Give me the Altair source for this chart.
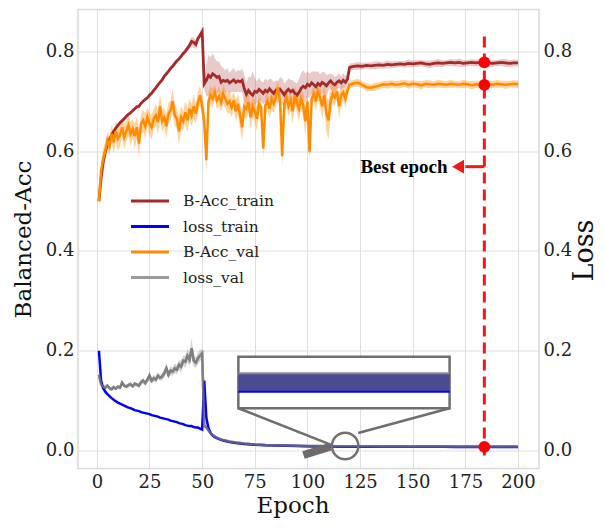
import altair as alt
import pandas as pd

# ---------------- data ----------------
EPOCH_ACC = list(range(1, 121)) + list(range(122, 201, 2))

ACC_TRAIN = [
    0.500, 0.545, 0.578, 0.598, 0.612, 0.623, 0.632, 0.640, 0.646, 0.652,
    0.657, 0.661, 0.665, 0.670, 0.674, 0.677, 0.681, 0.685, 0.689, 0.690,
    0.696, 0.700, 0.704, 0.707, 0.712, 0.716, 0.722, 0.727, 0.733, 0.738,
    0.743, 0.750, 0.755, 0.760, 0.766, 0.770, 0.776, 0.781, 0.785, 0.790,
    0.796, 0.800, 0.806, 0.812, 0.820, 0.818, 0.814, 0.826, 0.832, 0.840,
    0.735, 0.742, 0.752, 0.748, 0.755, 0.752, 0.748, 0.750, 0.738, 0.742,
    0.740, 0.742, 0.737, 0.740, 0.743, 0.738, 0.741, 0.739, 0.742, 0.725,
    0.714, 0.722, 0.716, 0.712, 0.720, 0.718, 0.724, 0.720, 0.716, 0.722,
    0.719, 0.725, 0.720, 0.716, 0.722, 0.718, 0.724, 0.719, 0.713, 0.720,
    0.724, 0.719, 0.722, 0.716, 0.712, 0.718, 0.726, 0.730, 0.727, 0.734,
    0.731, 0.737, 0.733, 0.729, 0.736, 0.732, 0.738, 0.735, 0.731, 0.737,
    0.741, 0.736, 0.733, 0.738, 0.741, 0.737, 0.742, 0.738, 0.744, 0.768,
    0.770, 0.771, 0.770, 0.772, 0.771, 0.772, 0.773, 0.772, 0.774, 0.773,
    0.774, 0.775, 0.774, 0.776, 0.775, 0.776, 0.777, 0.775, 0.774, 0.776,
    0.777, 0.776, 0.777, 0.778, 0.777, 0.778, 0.776, 0.777, 0.778, 0.777,
    0.778, 0.778, 0.777, 0.776, 0.777, 0.778, 0.777, 0.776, 0.777, 0.777,
]
ACC_TRAIN_STD = [
    0.004, 0.006, 0.005, 0.004, 0.004, 0.004, 0.003, 0.004, 0.004, 0.004,
    0.004, 0.003, 0.004, 0.004, 0.003, 0.004, 0.004, 0.003, 0.004, 0.004,
    0.004, 0.004, 0.003, 0.004, 0.004, 0.004, 0.003, 0.004, 0.004, 0.004,
    0.004, 0.005, 0.004, 0.004, 0.005, 0.004, 0.005, 0.005, 0.004, 0.005,
    0.005, 0.006, 0.006, 0.007, 0.009, 0.010, 0.009, 0.008, 0.006, 0.005,
    0.012, 0.032, 0.042, 0.040, 0.042, 0.035, 0.032, 0.030, 0.033, 0.025,
    0.022, 0.024, 0.020, 0.022, 0.024, 0.020, 0.022, 0.021, 0.024, 0.027,
    0.024, 0.027, 0.032, 0.048, 0.027, 0.022, 0.024, 0.020, 0.022, 0.024,
    0.022, 0.020, 0.024, 0.022, 0.020, 0.022, 0.024, 0.027, 0.022, 0.020,
    0.022, 0.024, 0.020, 0.022, 0.024, 0.027, 0.030, 0.032, 0.028, 0.026,
    0.024, 0.022, 0.027, 0.030, 0.024, 0.022, 0.020, 0.024, 0.022, 0.016,
    0.015, 0.017, 0.016, 0.013, 0.015, 0.013, 0.014, 0.013, 0.010, 0.008,
    0.007, 0.008, 0.007, 0.006, 0.007, 0.008, 0.007, 0.007, 0.008, 0.007,
    0.007, 0.006, 0.007, 0.008, 0.007, 0.007, 0.006, 0.007, 0.008, 0.007,
    0.008, 0.007, 0.006, 0.007, 0.007, 0.008, 0.007, 0.006, 0.007, 0.007,
    0.007, 0.008, 0.007, 0.007, 0.006, 0.007, 0.008, 0.007, 0.007, 0.007,
]
ACC_VAL = [
    0.500, 0.560, 0.585, 0.600, 0.622, 0.610, 0.635, 0.618, 0.640, 0.625,
    0.632, 0.648, 0.628, 0.640, 0.652, 0.635, 0.645, 0.630, 0.648, 0.615,
    0.655, 0.662, 0.650, 0.668, 0.655, 0.648, 0.665, 0.672, 0.658, 0.690,
    0.660, 0.668, 0.650, 0.675, 0.682, 0.700, 0.672, 0.665, 0.640, 0.668,
    0.660, 0.678, 0.662, 0.685, 0.672, 0.690, 0.675, 0.698, 0.712, 0.690,
    0.660, 0.582, 0.700, 0.712, 0.705, 0.718, 0.702, 0.710, 0.698, 0.715,
    0.705, 0.695, 0.700, 0.688, 0.702, 0.680, 0.695, 0.672, 0.648, 0.690,
    0.685, 0.698, 0.668, 0.690, 0.680, 0.665, 0.695, 0.688, 0.605, 0.692,
    0.700, 0.685, 0.705, 0.695, 0.708, 0.728, 0.700, 0.590, 0.695, 0.708,
    0.690, 0.702, 0.680, 0.712, 0.698, 0.685, 0.705, 0.692, 0.660, 0.700,
    0.598, 0.705, 0.715, 0.700, 0.720, 0.708, 0.690, 0.712, 0.675, 0.662,
    0.700, 0.715, 0.708, 0.720, 0.690, 0.712, 0.718, 0.705, 0.722, 0.733,
    0.736, 0.737, 0.733, 0.728, 0.727, 0.729, 0.731, 0.734, 0.733, 0.735,
    0.733, 0.734, 0.736, 0.733, 0.735, 0.734, 0.732, 0.735, 0.734, 0.733,
    0.735, 0.734, 0.733, 0.735, 0.734, 0.733, 0.735, 0.734, 0.732, 0.734,
    0.733, 0.733, 0.734, 0.733, 0.735, 0.734, 0.733, 0.734, 0.735, 0.734,
]
ACC_VAL_STD = [
    0.010, 0.018, 0.020, 0.018, 0.015, 0.020, 0.018, 0.022, 0.020, 0.025,
    0.022, 0.020, 0.025, 0.020, 0.022, 0.024, 0.020, 0.025, 0.022, 0.028,
    0.020, 0.022, 0.025, 0.020, 0.022, 0.025, 0.020, 0.022, 0.024, 0.025,
    0.022, 0.020, 0.025, 0.022, 0.020, 0.025, 0.022, 0.020, 0.028, 0.022,
    0.020, 0.022, 0.025, 0.020, 0.022, 0.025, 0.020, 0.022, 0.020, 0.022,
    0.030, 0.025, 0.020, 0.018, 0.020, 0.015, 0.018, 0.020, 0.018, 0.020,
    0.018, 0.020, 0.022, 0.020, 0.018, 0.022, 0.020, 0.025, 0.028, 0.020,
    0.022, 0.020, 0.025, 0.020, 0.022, 0.025, 0.020, 0.018, 0.020, 0.020,
    0.018, 0.020, 0.022, 0.018, 0.020, 0.015, 0.020, 0.020, 0.022, 0.020,
    0.020, 0.022, 0.025, 0.020, 0.022, 0.025, 0.020, 0.022, 0.030, 0.020,
    0.020, 0.018, 0.015, 0.020, 0.018, 0.020, 0.025, 0.022, 0.035, 0.040,
    0.030, 0.020, 0.018, 0.015, 0.025, 0.020, 0.015, 0.018, 0.012, 0.008,
    0.007, 0.008, 0.007, 0.008, 0.007, 0.008, 0.007, 0.007, 0.008, 0.007,
    0.007, 0.008, 0.007, 0.008, 0.007, 0.007, 0.008, 0.007, 0.008, 0.007,
    0.008, 0.007, 0.007, 0.008, 0.007, 0.007, 0.008, 0.007, 0.008, 0.007,
    0.007, 0.008, 0.007, 0.007, 0.008, 0.007, 0.008, 0.007, 0.007, 0.008,
]

EPOCH_LOSS = list(range(1, 57)) + [58, 60, 63, 66, 70, 75, 80, 85, 90, 95, 100,
                                   105, 110, 115, 120, 125, 130, 135, 140, 145,
                                   150, 155, 160, 165, 170, 175, 180, 184, 190,
                                   195, 200]
LOSS_TRAIN = [
    0.200, 0.140, 0.125, 0.118, 0.113, 0.109, 0.105, 0.102, 0.099, 0.096,
    0.094, 0.092, 0.090, 0.088, 0.086, 0.085, 0.083, 0.081, 0.080, 0.079,
    0.077, 0.076, 0.075, 0.074, 0.073, 0.071, 0.070, 0.069, 0.068, 0.066,
    0.065, 0.064, 0.063, 0.062, 0.060, 0.059, 0.058, 0.057, 0.055, 0.054,
    0.053, 0.051, 0.050, 0.049, 0.049, 0.047, 0.046, 0.046, 0.044, 0.042,
    0.140, 0.065, 0.045, 0.035, 0.030, 0.027,
    0.023, 0.020, 0.017, 0.015, 0.0130, 0.0115, 0.0105, 0.0100, 0.0095, 0.0090,
    0.0085, 0.0082, 0.0080, 0.0078, 0.0077, 0.0076, 0.0076, 0.0075, 0.0075,
    0.0075, 0.0074, 0.0074, 0.0074, 0.0074, 0.0073, 0.0073, 0.0073, 0.0073,
    0.0073, 0.0073, 0.0073,
]
LOSS_VAL = [
    0.152, 0.133, 0.128, 0.126, 0.130, 0.125, 0.123, 0.127, 0.124, 0.128,
    0.126, 0.136, 0.130, 0.128, 0.131, 0.133, 0.129, 0.134, 0.132, 0.130,
    0.137, 0.140, 0.135, 0.142, 0.150, 0.140, 0.145, 0.142, 0.150, 0.146,
    0.148, 0.155, 0.165, 0.152, 0.160, 0.158, 0.165, 0.162, 0.172, 0.168,
    0.180, 0.178, 0.190, 0.182, 0.205, 0.180, 0.176, 0.185, 0.190, 0.195,
    0.050, 0.046, 0.040, 0.035, 0.031, 0.028,
    0.024, 0.021, 0.018, 0.016, 0.0140, 0.0123, 0.0113, 0.0108, 0.0103, 0.0098,
    0.0093, 0.0090, 0.0088, 0.0086, 0.0085, 0.0084, 0.0084, 0.0083, 0.0083,
    0.0083, 0.0082, 0.0082, 0.0082, 0.0082, 0.0081, 0.0081, 0.0081, 0.0081,
    0.0081, 0.0081, 0.0081,
]
LOSS_VAL_STD = [
    0.004, 0.004, 0.003, 0.004, 0.004, 0.003, 0.004, 0.004, 0.003, 0.004,
    0.004, 0.005, 0.004, 0.004, 0.005, 0.004, 0.004, 0.005, 0.004, 0.005,
    0.005, 0.006, 0.005, 0.006, 0.010, 0.006, 0.007, 0.006, 0.007, 0.006,
    0.007, 0.008, 0.010, 0.008, 0.009, 0.008, 0.010, 0.009, 0.010, 0.012,
    0.010, 0.012, 0.014, 0.012, 0.020, 0.012, 0.010, 0.012, 0.011, 0.010,
    0.004, 0.003, 0.002, 0.002, 0.001, 0.001,
    0.001, 0.001, 0.001, 0.001, 0.001, 0.001, 0.001, 0.001, 0.001, 0.001,
    0.001, 0.001, 0.001, 0.001, 0.001, 0.001, 0.001, 0.001, 0.001, 0.001,
    0.001, 0.001, 0.001, 0.001, 0.001, 0.001, 0.001, 0.001, 0.001, 0.001,
    0.001,
]

SERIES = ["B-Acc_train", "loss_train", "B-Acc_val", "loss_val"]
COLORS = ["#a52a2a", "#0000ff", "#ff8c00", "#999999"]
LOSS_VAL_INK = "#777777"

X_TICKS = [0, 25, 50, 75, 100, 125, 150, 175, 200]
Y_TICKS = [0.0, 0.2, 0.4, 0.6, 0.8]
X_DOMAIN = [-8.95, 209.95]
Y_DOMAIN = [-0.036, 0.884]

BEST_EPOCH = 184
BEST_LABEL = "Best epoch"
# annotation geometry (data units)
ARROW_Y = 0.569
ARROW_TAIL_X = 175.0
ARROW_HEAD_X = 171.5
LABEL_X = 166.5
VLINE_TOP = 0.83
VLINE_BOTTOM = -0.02
INSET_X = [67.2, 167.5]
INSET_Y = [0.0847, 0.188]
INSET_BAND_Y = [0.118, 0.155]
LENS_X, LENS_Y = 117.9, 0.009
CONNECT_L = [67.2, 0.0847, 111.6, 0.011]
CONNECT_R = [167.5, 0.0847, 124.1, 0.035]
HANDLE = [98.1, -0.009, 110.8, 0.0077]

FONT = "DejaVu Serif"
BOLD_FONT = "Liberation Serif"

W, H = 461, 459

# ---------------- frames ----------------
acc_df = pd.DataFrame({
    "epoch": EPOCH_ACC,
    "train": ACC_TRAIN, "train_sd": ACC_TRAIN_STD,
    "val": ACC_VAL, "val_sd": ACC_VAL_STD,
})
acc_df["train_lo"] = acc_df["train"] - acc_df["train_sd"]
acc_df["train_hi"] = acc_df["train"] + acc_df["train_sd"]
acc_df["val_lo"] = acc_df["val"] - acc_df["val_sd"]
acc_df["val_hi"] = acc_df["val"] + acc_df["val_sd"]

loss_df = pd.DataFrame({
    "epoch": EPOCH_LOSS, "train": LOSS_TRAIN,
    "val": LOSS_VAL, "val_sd": LOSS_VAL_STD,
})
loss_df["val_lo"] = loss_df["val"] - loss_df["val_sd"]
loss_df["val_hi"] = loss_df["val"] + loss_df["val_sd"]

color_scale = alt.Scale(domain=SERIES, range=COLORS)
xs = alt.Scale(domain=X_DOMAIN, nice=False, zero=False)
ys = alt.Scale(domain=Y_DOMAIN, nice=False, zero=False)

x_axis = alt.Axis(title="Epoch", values=X_TICKS, labelFont=FONT, labelFontSize=18,
                  titleFont=FONT, titleFontSize=23, titleFontWeight="normal",
                  labelColor="#222222", titleColor="#111111", ticks=False,
                  domain=False, labelPadding=5, titleBaseline="alphabetic",
                  titleY=44, titleX=214.5, titleAlign="center",
                  gridColor="#dedede", gridWidth=1)
y_left = alt.Axis(title="Balanced-Acc", values=Y_TICKS, format=".1f", orient="left",
                  labelFont=FONT, labelFontSize=18, titleFont=FONT,
                  titleFontSize=23, titleFontWeight="normal",
                  labelColor="#222222", titleColor="#111111", ticks=False,
                  domain=False, labelPadding=4, titlePadding=10,
                  gridColor="#dedede", gridWidth=1)
y_right = alt.Axis(title="Loss", values=Y_TICKS, format=".1f", orient="right",
                   labelFont=FONT, labelFontSize=18, titleFont=FONT,
                   titleFontSize=27, titleFontWeight="normal", titleAngle=270,
                   titleX=45, titleY=240.5, titleAlign="center",
                   titleBaseline="middle",
                   labelColor="#222222", titleColor="#111111", ticks=False,
                   domain=False, grid=False, labelPadding=4)

legend = alt.Legend(orient="none", legendX=61, legendY=180.5, title=None,
                    symbolType="M-2,0H2", symbolSize=361, symbolStrokeWidth=3,
                    symbolOpacity=1,
                    labelFont=FONT, labelFontSize=15.5, labelColor="#222222",
                    labelOffset=22, rowPadding=5.5, padding=0)


def X(field):
    return alt.X(field, scale=xs, axis=x_axis)


def YL(field):
    return alt.Y(field, scale=ys, axis=y_left)


def YR(field):
    return alt.Y(field, scale=ys, axis=y_right)


def C():
    return alt.Color("series:N", scale=color_scale, legend=legend, sort=SERIES)


base_acc = alt.Chart(acc_df)

band_train = base_acc.mark_area(color="#a52a2a", opacity=0.25).encode(
    x=X("epoch:Q"), y=YL("train_lo:Q"), y2="train_hi:Q")
band_val = base_acc.mark_area(color="#ff8c00", opacity=0.38).encode(
    x=X("epoch:Q"), y=YL("val_lo:Q"), y2="val_hi:Q")
line_train = base_acc.transform_calculate(series="'B-Acc_train'").mark_line(
    strokeWidth=2.8).encode(x=X("epoch:Q"), y=YL("train:Q"), color=C())
line_val = base_acc.transform_calculate(series="'B-Acc_val'").mark_line(
    strokeWidth=2.5).encode(x=X("epoch:Q"), y=YL("val:Q"), color=C())

best_acc = base_acc.transform_filter(alt.datum.epoch == BEST_EPOCH)
dot_train = best_acc.mark_circle(color="#ff0000", size=140, opacity=1).encode(
    x=X("epoch:Q"), y=YL("train:Q"))
dot_val = best_acc.mark_circle(color="#ff0000", size=140, opacity=1).encode(
    x=X("epoch:Q"), y=YL("val:Q"))

ann_df = pd.DataFrame({
    "x": [BEST_EPOCH], "y": [VLINE_TOP], "y2": [VLINE_BOTTOM],
    "ay": [ARROW_Y], "ax2": [ARROW_TAIL_X], "hx": [ARROW_HEAD_X],
    "lx": [LABEL_X], "label": [BEST_LABEL],
})
ann = alt.Chart(ann_df)
vline = ann.mark_rule(color="#f01818", strokeWidth=3, strokeDash=[11, 6]).encode(
    x=X("x:Q"), y=YL("y:Q"), y2="y2:Q")
arrow_shaft = ann.mark_rule(color="#f01818", strokeWidth=3).encode(
    x=X("x:Q"), x2="ax2:Q", y=YL("ay:Q"))
arrow_head = ann.mark_point(shape="triangle-left", filled=True, color="#f01818",
                            size=190, opacity=1).encode(
    x=X("hx:Q"), y=YL("ay:Q"))
label = ann.mark_text(align="right", baseline="middle", font=BOLD_FONT,
                      fontSize=19, fontWeight="bold", color="#000000").encode(
    x=X("lx:Q"), y=YL("ay:Q"), text="label:N")

acc_layer = alt.layer(band_train, band_val, line_train, line_val, vline,
                      arrow_shaft, arrow_head, label, dot_train, dot_val)

# ---------------- loss side ----------------
base_loss = alt.Chart(loss_df)
band_lval = base_loss.mark_area(color="#808080", opacity=0.35).encode(
    x=X("epoch:Q"), y=YR("val_lo:Q"), y2="val_hi:Q")
line_lval = base_loss.transform_calculate(series="'loss_val'").mark_line(
    strokeWidth=2.5).encode(x=X("epoch:Q"), y=YR("val:Q"), color=C())
line_ltrain = base_loss.transform_calculate(series="'loss_train'").mark_line(
    strokeWidth=2.5).encode(x=X("epoch:Q"), y=YR("train:Q"), color=C())
line_lval_ink = base_loss.mark_line(strokeWidth=2.5, color=LOSS_VAL_INK,
                                    opacity=0.75).encode(
    x=X("epoch:Q"), y=YR("val:Q"))
dot_loss = base_loss.transform_filter(alt.datum.epoch == BEST_EPOCH).mark_circle(
    color="#ff0000", size=140, opacity=1).encode(x=X("epoch:Q"), y=YR("train:Q"))

inset_df = pd.DataFrame({
    "x": [INSET_X[0]], "x2": [INSET_X[1]],
    "y": [INSET_Y[0]], "y2": [INSET_Y[1]],
    "by": [INSET_BAND_Y[0]], "by2": [INSET_BAND_Y[1]],
})
inset = alt.Chart(inset_df)
inset_box = inset.mark_rect(fill="#ffffff", stroke="#6e6e6e", strokeWidth=2.5).encode(
    x=X("x:Q"), x2="x2:Q", y=YR("y:Q"), y2="y2:Q")
inset_band = inset.mark_rect(fill="#4b4b94").encode(
    x=X("x:Q"), x2="x2:Q", y=YR("by:Q"), y2="by2:Q")
inset_top = inset.mark_rule(color="#8a8a8a", strokeWidth=2).encode(
    x=X("x:Q"), x2="x2:Q", y=YR("by2:Q"))
inset_bot = inset.mark_rule(color="#0000ff", strokeWidth=2).encode(
    x=X("x:Q"), x2="x2:Q", y=YR("by:Q"))

conn_df = pd.DataFrame({
    "x": [CONNECT_L[0], CONNECT_R[0]], "y": [CONNECT_L[1], CONNECT_R[1]],
    "x2": [CONNECT_L[2], CONNECT_R[2]], "y2": [CONNECT_L[3], CONNECT_R[3]],
})
connectors = alt.Chart(conn_df).mark_rule(color="#6e6e6e", strokeWidth=2.5).encode(
    x=X("x:Q"), x2="x2:Q", y=YR("y:Q"), y2="y2:Q")
lens_df = pd.DataFrame({"x": [LENS_X], "y": [LENS_Y],
                        "hx": [HANDLE[0]], "hy": [HANDLE[1]],
                        "hx2": [HANDLE[2]], "hy2": [HANDLE[3]]})
lens = alt.Chart(lens_df).mark_point(shape="circle", filled=False, size=700,
                                     color="#747070", strokeWidth=2.5,
                                     opacity=1).encode(x=X("x:Q"), y=YR("y:Q"))
handle = alt.Chart(lens_df).mark_rule(color="#6e6a6a", strokeWidth=8,
                                      strokeCap="butt").encode(
    x=X("hx:Q"), x2="hx2:Q", y=YR("hy:Q"), y2="hy2:Q")

loss_layer = alt.layer(band_lval, line_lval, line_ltrain, line_lval_ink,
                       connectors, inset_box, inset_band, inset_top, inset_bot,
                       handle, lens, dot_loss)

chart = alt.layer(acc_layer, loss_layer).resolve_scale(y="independent").properties(
    width=W, height=H,
    padding={"left": 70, "top": 1.5, "right": 58, "bottom": 49.5},
    autosize=alt.AutoSizeParams(type="none"),
).configure_view(stroke="#d9d9d9", strokeWidth=1.5)

chart.save("out.html", embed_options={"renderer": "svg", "actions": False})
